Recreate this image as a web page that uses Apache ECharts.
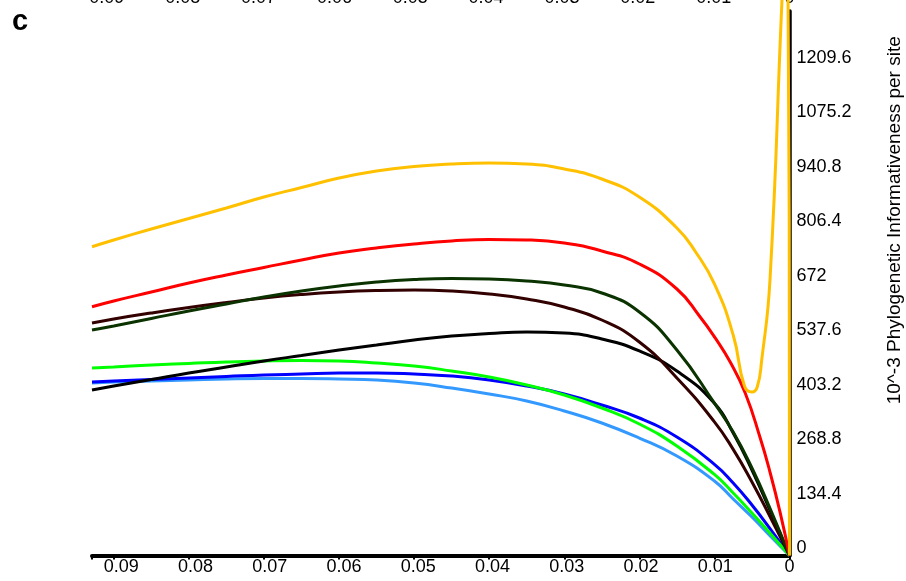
<!DOCTYPE html>
<html><head><meta charset="utf-8">
<script src="https://cdn.jsdelivr.net/npm/echarts@6/dist/echarts.min.js"></script>
<style>html,body{margin:0;padding:0;background:#fff}#c{width:906px;height:581px}</style>
</head><body><div id="c"></div>
<script>
// tick labels
const xTickLabels = ['0','0.01','0.02','0.03','0.04','0.05','0.06','0.07','0.08','0.09'];
const yTickLabels = ['0','134.4','268.8','403.2','537.6','672','806.4','940.8','1075.2','1209.6'];
const yTitle = '10^-3 Phylogenetic Informativeness per site';
const panelLetter = 'c';

// series values: [distance, informativeness]
const yellowData = [[0.0929,762.2],[0.09,778.8],[0.085,805.9],[0.08,831.8],[0.075,857.8],[0.07,884.9],[0.065,908.3],[0.06,931.8],[0.055,949.1],[0.05,960.2],[0.045,966.4],[0.04,968.8],[0.035,966.4],[0.03,954],[0.025,929.3],[0.02,884.9],[0.015,808.4],[0.0125,749.1],[0.01,670.2],[0.0075,544.3],[0.006,418.4],[0.005,403.6],[0.0043,415.9],[0.0037,482.6],[0.0026,680],[0.001,1371],[0.00027,1643],[0,0]];
const redData = [[0.0929,614.1],[0.09,628.2],[0.085,650.4],[0.08,672.6],[0.075,692.4],[0.07,710.9],[0.065,729.4],[0.06,746.7],[0.055,759],[0.05,768.9],[0.045,776.3],[0.04,780],[0.035,778.8],[0.03,771.4],[0.025,751.6],[0.02,719.5],[0.015,657.8],[0.0119,588.7],[0.0099,537],[0.0079,477.6],[0.0059,401],[0.0039,290],[0.0026,206],[0.00126,107],[0,0]];
const darkGreenData = [[0.0929,556.6],[0.09,566.5],[0.085,585],[0.08,603.5],[0.075,620.8],[0.07,638],[0.065,652.9],[0.06,665.2],[0.055,675.1],[0.05,681.3],[0.045,683.7],[0.04,682.5],[0.035,677.6],[0.03,667.7],[0.025,648],[0.02,601],[0.015,507.2],[0.01,376],[0.0075,304.8],[0.005,216],[0.0025,112.3],[0,0]];
const brownData = [[0.0929,574],[0.09,583.8],[0.085,598.6],[0.08,612.2],[0.075,624.5],[0.07,635.6],[0.065,644.2],[0.06,650.4],[0.055,654.1],[0.05,655.4],[0.045,652.9],[0.04,645.5],[0.035,633.1],[0.03,613.4],[0.025,581.3],[0.02,527],[0.015,438.1],[0.01,330],[0.0075,262],[0.005,181.4],[0.0025,92.6],[0,0]];
const blackData = [[0.0929,408.5],[0.09,418.4],[0.085,434.4],[0.08,450.5],[0.075,465.3],[0.07,480.1],[0.065,493.7],[0.06,507.2],[0.055,519.6],[0.05,531.9],[0.045,541.8],[0.04,548],[0.035,551.7],[0.03,549.2],[0.025,534.4],[0.02,504.8],[0.015,455.4],[0.01,376],[0.0075,302.4],[0.005,211],[0.0025,107.4],[0,0]];
const greenData = [[0.0929,462.8],[0.09,465.3],[0.085,470.2],[0.08,473.9],[0.075,477.6],[0.07,480.1],[0.065,481.3],[0.06,480.1],[0.055,475.2],[0.05,467.8],[0.045,455.4],[0.04,440.6],[0.035,420.9],[0.03,396.2],[0.025,364.1],[0.02,324.6],[0.015,270.3],[0.01,200],[0.0075,154.3],[0.005,104.9],[0.0025,53],[0,0]];
const blueData = [[0.0929,428.4],[0.09,430.7],[0.085,434.4],[0.08,438.1],[0.075,441.8],[0.07,445.5],[0.065,448],[0.06,450.5],[0.055,450.5],[0.05,448],[0.045,443],[0.04,433.2],[0.035,418.4],[0.03,398.6],[0.025,371.5],[0.02,339.4],[0.015,292.5],[0.01,225],[0.0075,179],[0.005,124.6],[0.0025,64],[0,0]];
const lightBlueData = [[0.0929,425.8],[0.09,428.3],[0.085,430.7],[0.08,433.2],[0.075,435.7],[0.07,436.9],[0.065,436.9],[0.06,435.7],[0.055,433.2],[0.05,425.8],[0.045,413.4],[0.04,398.6],[0.035,381.4],[0.03,356.7],[0.025,327.1],[0.02,290],[0.015,245.6],[0.01,184],[0.0075,139.5],[0.005,95],[0.0025,47],[0,0]];

const FONT = "'Liberation Sans', Arial, sans-serif";
const chart = echarts.init(document.getElementById('c'), null, {renderer: 'canvas'});

function line(name, data, color, opts) {
  return Object.assign({
    name, type: 'line', data, xAxisIndex: 0, yAxisIndex: 0,
    showSymbol: false, smooth: 0.5,
    lineStyle: {color, width: 3}, itemStyle: {color}, silent: true
  }, opts || {});
}

const gridBox = {left: 92, right: 116.5, top: 11, bottom: 25.5, containLabel: false, outerBoundsMode: 'none'};

chart.setOption({
  animation: false,
  backgroundColor: '#fff',
  title: {text: panelLetter, left: 7, top: 2, textStyle: {fontFamily: FONT, fontWeight: 'bold', fontSize: 29, color: '#000'}},
  grid: [Object.assign({}, gridBox), Object.assign({}, gridBox)],
  xAxis: [
    { // data axis with line and ticks
      type: 'value', gridIndex: 0, position: 'bottom', inverse: true, min: 0, max: 0.0929, interval: 0.01,
      axisLine: {show: true, lineStyle: {color: '#000', width: 4}},
      axisTick: {show: true, length: 4, lineStyle: {color: '#000', width: 2}},
      axisLabel: {show: false}, splitLine: {show: false}
    },
    { // top labels (from panel above)
      type: 'value', gridIndex: 0, position: 'top', inverse: true, min: 0, max: 0.09196, interval: 0.01,
      axisLine: {show: false}, axisTick: {show: false}, splitLine: {show: false},
      axisLabel: {show: true, margin: 4, fontFamily: FONT, fontSize: 18, color: '#000',
        formatter: v => xTickLabels[Math.round(v / 0.01)] || ''}
    },
    { // bottom labels
      type: 'value', gridIndex: 1, position: 'bottom', inverse: true, min: 0, max: 0.09395, interval: 0.01,
      axisLine: {show: false}, axisTick: {show: false}, splitLine: {show: false},
      axisLabel: {show: true, margin: 3, fontFamily: FONT, fontSize: 18, color: '#000',
        formatter: v => xTickLabels[Math.round(v / 0.01)] || ''}
    }
  ],
  yAxis: [
    {
      type: 'value', gridIndex: 0, position: 'right', min: 0, max: 1344, interval: 134.4,
      axisLine: {show: true, lineStyle: {color: '#000', width: 3.5}},
      axisTick: {show: false}, splitLine: {show: false},
      axisLabel: {show: true, showMaxLabel: false, margin: 7, fontFamily: FONT, fontSize: 18, color: '#000',
        verticalAlign: 'bottom', lineHeight: 15,
        formatter: v => yTickLabels[Math.round(v / 134.4)] || ''},
      name: yTitle, nameLocation: 'middle', nameRotate: 90, nameGap: 96,
      nameTextStyle: {fontFamily: FONT, fontSize: 19, color: '#000', padding: [0, 0, 0, 126]}
    },
    {type: 'value', gridIndex: 1, min: 0, max: 1344, show: false}
  ],
  series: [
    line('light blue', lightBlueData, '#3399FF'),
    line('blue', blueData, '#0000FF'),
    line('green', greenData, '#00FF00'),
    line('black', blackData, '#000000'),
    line('brown', brownData, '#330000'),
    line('dark green', darkGreenData, '#0A3300'),
    line('red', redData, '#FF0000'),
    line('yellow', yellowData, '#FFC000', {clip: false})
  ]
});
</script>
</body></html>
